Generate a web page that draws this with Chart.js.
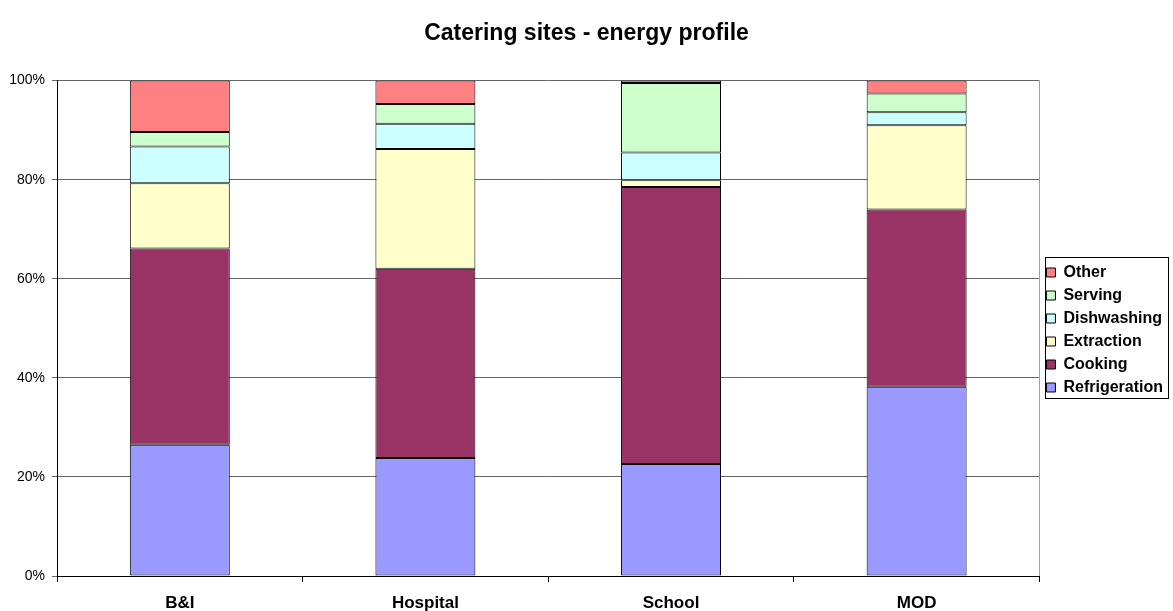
<!DOCTYPE html>
<html>
<head>
<meta charset="utf-8">
<title>Catering sites - energy profile</title>
<script src="https://cdn.jsdelivr.net/npm/chart.js@4"></script>
<style>
  html, body { margin: 0; padding: 0; background: #fff; }
  #wrap { width: 1173px; height: 611px; }
</style>
</head>
<body>
<div id="wrap"><canvas id="barchart" width="1173" height="611"></canvas></div>
<script>
// sites along the x axis
const sites = ['B&I', 'Hospital', 'School', 'MOD'];

// share of energy use per site, in %
const refrigeration = [26.5, 23.8, 22.6, 38.2];
const cooking       = [39.6, 38.2, 55.9, 35.8];
const extraction    = [13.2, 24.2, 1.4, 17.0];
const dishwashing   = [7.4, 5.1, 5.6, 2.6];
const serving       = [2.9, 4.0, 14.0, 3.8];
const other         = [10.4, 4.7, 0.5, 2.6];

const yTicks = [0, 20, 40, 60, 80, 100];

const FONT = '"Liberation Sans", Arial, Helvetica, sans-serif';

// cadre gris du côté droit de la zone de tracé + cadre de la légende
const frames = {
    id: 'frames',
    afterDraw(chart) {
        const c = chart.ctx;
        const a = chart.chartArea;
        c.save();
        c.lineWidth = 1;
        c.strokeStyle = '#a0a0a0';
        c.beginPath();
        c.moveTo(Math.round(a.right) + 0.5, a.top);
        c.lineTo(Math.round(a.right) + 0.5, a.bottom);
        c.stroke();

        const boxes = chart.legend.legendHitBoxes;
        if (boxes && boxes.length) {
            let l = Infinity, t = Infinity, r = -Infinity, b = -Infinity;
            boxes.forEach((h) => {
                l = Math.min(l, h.left);
                t = Math.min(t, h.top);
                r = Math.max(r, h.left + h.width);
                b = Math.max(b, h.top + h.height);
            });
            c.strokeStyle = '#000';
            c.strokeRect(Math.round(l - 1) + 0.5, Math.round(t - 8) + 0.5,
                         Math.round(r - l + 6), Math.round(b - t + 10));
        }
        c.restore();
    }
};

function makeSet(label, data, color) {
    return {
        label: label,
        data: data,
        backgroundColor: color,
        borderColor: '#000',
        borderWidth: 1,
        borderSkipped: false,
        barPercentage: 0.407,
        categoryPercentage: 1
    };
}

const ctx = document.getElementById('barchart');

new Chart(ctx, {
    type: 'bar',
    data: {
        labels: sites,
        datasets: [
            makeSet('Refrigeration', refrigeration, '#9999ff'),
            makeSet('Cooking', cooking, '#993366'),
            makeSet('Extraction', extraction, '#ffffcc'),
            makeSet('Dishwashing', dishwashing, '#ccffff'),
            makeSet('Serving', serving, '#ccffcc'),
            makeSet('Other', other, '#ff8080')
        ]
    },
    options: {
        responsive: false,
        animation: false,
        layout: { padding: { left: 0, right: 0, top: 0, bottom: 0 } },
        scales: {
            x: {
                stacked: true,
                offset: true,
                grid: {
                    offset: true,
                    drawOnChartArea: false,
                    drawTicks: true,
                    tickLength: 6,
                    color: '#000'
                },
                border: { color: '#000', width: 1 },
                ticks: {
                    color: '#000',
                    padding: 11,
                    font: { family: FONT, size: 17, weight: 'bold' }
                },
                afterFit(scale) { scale.height = 35; }
            },
            y: {
                stacked: true,
                min: 0,
                max: 100,
                afterBuildTicks(scale) {
                    scale.ticks = yTicks.map((v) => ({ value: v }));
                },
                grid: {
                    color: '#666',
                    tickLength: 5,
                    drawTicks: true
                },
                border: { color: '#000', width: 1 },
                ticks: {
                    color: '#000',
                    padding: 7,
                    font: { family: FONT, size: 14 },
                    callback: (v) => v + '%'
                },
                afterFit(scale) { scale.width = 57; }
            }
        },
        plugins: {
            title: {
                display: true,
                text: 'Catering sites - energy profile',
                color: '#000',
                font: { family: FONT, size: 23, weight: 'bold' },
                padding: { top: 20, bottom: 33 }
            },
            legend: {
                display: true,
                position: 'right',
                reverse: true,
                // titre vide : sert seulement à descendre les entrées
                title: {
                    display: true,
                    text: '',
                    font: { size: 10, lineHeight: 1 },
                    padding: { top: 39, bottom: 0 }
                },
                labels: {
                    color: '#000',
                    boxWidth: 9,
                    boxHeight: 9,
                    padding: 7,
                    font: { family: FONT, size: 16, weight: 'bold' }
                }
            },
            tooltip: { enabled: false }
        }
    },
    plugins: [frames]
});
</script>
</body>
</html>
